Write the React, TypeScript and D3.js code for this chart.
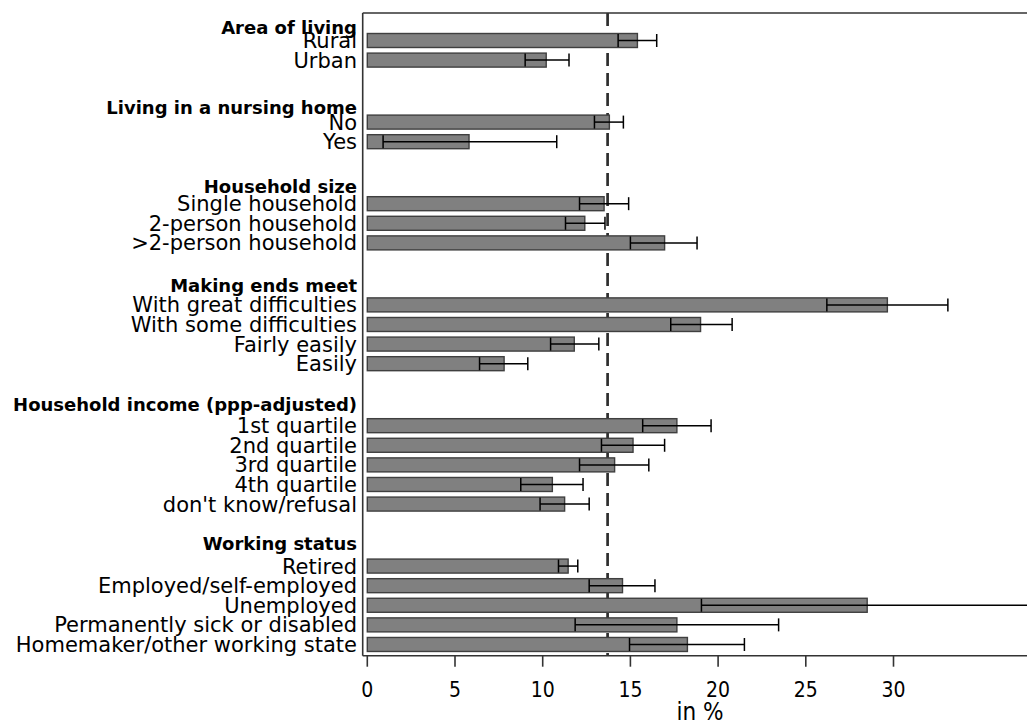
import React from "react";
import * as d3 from "d3";

const groupTitles = [
  "Area of living",
  "Living in a nursing home",
  "Household size",
  "Making ends meet",
  "Household income (ppp-adjusted)",
  "Working status",
];

const categories = [
  "Rural", "Urban",
  "No", "Yes",
  "Single household", "2-person household", ">2-person household",
  "With great difficulties", "With some difficulties", "Fairly easily", "Easily",
  "1st quartile", "2nd quartile", "3rd quartile", "4th quartile", "don't know/refusal",
  "Retired", "Employed/self-employed", "Unemployed", "Permanently sick or disabled", "Homemaker/other working state",
];

const groupOf = [0, 0, 1, 1, 2, 2, 2, 3, 3, 3, 3, 4, 4, 4, 4, 4, 5, 5, 5, 5, 5];

const values = [15.4, 10.2, 13.8, 5.8, 13.5, 12.4, 16.95, 29.65, 19.0, 11.8, 7.8, 17.65, 15.15, 14.1, 10.55, 11.25, 11.45, 14.55, 28.5, 17.65, 18.25];
const ciLow = [14.3, 9.0, 12.95, 0.9, 12.1, 11.3, 15.0, 26.2, 17.3, 10.45, 6.4, 15.7, 13.35, 12.1, 8.75, 9.85, 10.9, 12.65, 19.05, 11.85, 14.95];
const ciHigh = [16.5, 11.5, 14.6, 10.8, 14.9, 13.55, 18.8, 33.1, 20.8, 13.2, 9.15, 19.6, 16.95, 16.05, 12.3, 12.65, 12.0, 16.4, 38.0, 23.45, 21.5];

const overallMean = 13.7;
const xTicks = [0, 5, 10, 15, 20, 25, 30];
const axisTitle = "in %";

const W = 1027;
const H = 722;

export default function App() {
  const x = d3.scaleLinear().domain([0, 30]).range([367.3, 893.5]);
  const groupGap = 2.163;
  const slot = (i: number) => i + groupOf[i] * groupGap;
  const y = d3.scaleLinear().domain([0, 1]).range([40.5, 60.1]);
  const barH = 14;
  const capH = 13;

  const frameLeft = 362.7;
  const frameTop = 13;
  const frameBottom = 655.7;
  const frameRight = x(38.2);

  const labelFont = "'DejaVu Sans', Verdana, sans-serif";

  const firstIdx = groupTitles.map((_, g) => groupOf.indexOf(g));

  return (
    <svg
      width={W}
      height={H}
      viewBox={`0 0 ${W} ${H}`}
      style={{ position: "absolute", left: 0, top: 0, background: "#fff" }}
    >
      <rect x={0} y={0} width={W} height={H} fill="#fff" />
      {/* dashed overall mean line (behind bars) */}
      <line
        x1={x(overallMean)}
        x2={x(overallMean)}
        y1={frameTop}
        y2={frameBottom}
        stroke="#2e2e2e"
        strokeWidth={2.7}
        strokeDasharray="13 7"
      />
      {/* bars */}
      {values.map((v, i) => (
        <rect
          key={"b" + i}
          x={x(0)}
          y={y(slot(i)) - barH / 2}
          width={x(v) - x(0)}
          height={barH}
          fill="#808080"
          stroke="#3f3f3f"
          strokeWidth={1.4}
        />
      ))}
      {/* CI */}
      {values.map((_, i) => {
        const cy = y(slot(i));
        return (
          <g key={"ci" + i} stroke="#000" strokeWidth={1.5}>
            <line x1={x(ciLow[i])} x2={x(ciHigh[i])} y1={cy} y2={cy} />
            <line x1={x(ciLow[i])} x2={x(ciLow[i])} y1={cy - capH / 2} y2={cy + capH / 2} />
            <line x1={x(ciHigh[i])} x2={x(ciHigh[i])} y1={cy - capH / 2} y2={cy + capH / 2} />
          </g>
        );
      })}
      {/* frame */}
      <g stroke="#333" strokeWidth={1.6} fill="none">
        <line x1={frameLeft} x2={frameLeft} y1={frameTop} y2={frameBottom} />
        <line x1={frameLeft} x2={frameRight} y1={frameTop} y2={frameTop} />
        <line x1={frameLeft} x2={frameRight} y1={frameBottom} y2={frameBottom} />
        <line x1={frameRight} x2={frameRight} y1={frameTop} y2={frameBottom} />
      </g>
      {/* x ticks */}
      {xTicks.map((t) => (
        <g key={"t" + t}>
          <line x1={x(t)} x2={x(t)} y1={frameBottom} y2={frameBottom + 11} stroke="#333" strokeWidth={1.6} />
          <text
            x={x(t)}
            y={697.3}
            textAnchor="middle"
            fontFamily="'DejaVu Sans Condensed', 'DejaVu Sans', sans-serif"
            fontSize={21}
            fill="#000"
          >
            {t}
          </text>
        </g>
      ))}
      <text
        x={(frameLeft + frameRight) / 2}
        y={720}
        textAnchor="middle"
        fontFamily="'DejaVu Sans Condensed', 'DejaVu Sans', sans-serif"
        fontSize={24}
        fill="#000"
      >
        {axisTitle}
      </text>
      {/* category labels */}
      {categories.map((c, i) => (
        <text
          key={"l" + i}
          x={357}
          y={y(slot(i)) + 7.5}
          textAnchor="end"
          fontFamily={labelFont}
          fontSize={21}
          fill="#000"
        >
          {c}
        </text>
      ))}
      {/* group titles */}
      {groupTitles.map((g, gi) => (
        <text
          key={"g" + gi}
          x={357}
          y={y(slot(firstIdx[gi])) - (13 + 2 * gi) + 6.5}
          textAnchor="end"
          fontFamily={labelFont}
          fontWeight="bold"
          fontSize={18}
          fill="#000"
        >
          {g}
        </text>
      ))}
    </svg>
  );
}
